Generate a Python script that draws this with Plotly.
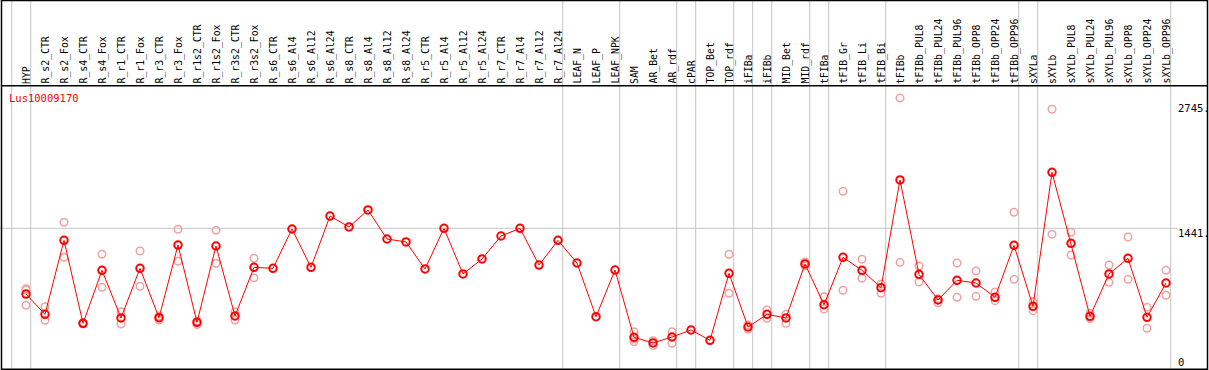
import plotly.graph_objects as go

categories = ["HYP", "R_s2_CTR", "R_s2_Fox", "R_s4_CTR", "R_s4_Fox", "R_r1_CTR", "R_r1_Fox",
              "R_r3_CTR", "R_r3_Fox", "R_r1s2_CTR", "R_r1s2_Fox", "R_r3s2_CTR", "R_r3s2_Fox",
              "R_s6_CTR", "R_s6_Al4", "R_s6_Al12", "R_s6_Al24", "R_s8_CTR", "R_s8_Al4",
              "R_s8_Al12", "R_s8_Al24", "R_r5_CTR", "R_r5_Al4", "R_r5_Al12", "R_r5_Al24",
              "R_r7_CTR", "R_r7_Al4", "R_r7_Al12", "R_r7_Al24", "LEAF_N", "LEAF_P", "LEAF_NPK",
              "SAM", "AR_Bet", "AR_rdf", "cPAR", "TOP_Bet", "TOP_rdf", "iFIBa", "iFIBb",
              "MID_Bet", "MID_rdf", "tFIBa", "tFIB_Gr", "tFIB_Li", "tFIB_Bi", "tFIBb",
              "tFIBb_PUL8", "tFIBb_PUL24", "tFIBb_PUL96", "tFIBb_OPP8", "tFIBb_OPP24",
              "tFIBb_OPP96", "sXYLa", "sXYLb", "sXYLb_PUL8", "sXYLb_PUL24", "sXYLb_PUL96",
              "sXYLb_OPP8", "sXYLb_OPP24", "sXYLb_OPP96"]

mean_values = [757, 546, 1316, 452, 1004, 508, 1025, 511, 1267, 463, 1257, 529, 1035,
               1025, 1434, 1035, 1569, 1455, 1632, 1330, 1299, 1018, 1441, 966, 1122,
               1361, 1441, 1059, 1316, 1080, 521, 1007,
               307, 248, 310, 383, 276, 973, 414, 546, 508, 1070, 646, 1139, 1004, 823,
               1944, 962, 695, 900, 872, 723, 1264, 629, 2024, 1285, 525, 966, 1129, 515, 872]

replicate_values = [[813, 799, 640], [625, 484], [1504, 1139], [460, 445], [1171, 827],
                    [573, 445], [1205, 838], [528, 486], [1431, 1098], [474, 440],
                    [1420, 1077], [570, 487], [1129, 927],
                    [], [], [], [], [], [], [], [], [], [], [], [], [], [], [], [], [], [], [],
                    [365, 261, 286], [272, 220], [365, 245], [], [], [1171, 765], [390, 435],
                    [591, 505], [546, 453], [1090, 1050], [729, 601], [1826, 796], [1119, 921],
                    [765, 860], [2797, 1087], [1049, 882], [709, 667], [1080, 723], [997, 733],
                    [778, 688], [1608, 910], [677, 584], [2680, 1379], [1400, 1163], [557, 502],
                    [1059, 879], [1351, 910], [619, 401], [1004, 744]]

# index of the last column of each group (separators drawn after them); -1 = before first
group_ends = [-1, 0, 28, 31, 34, 35, 37, 38, 39, 41, 42, 45, 52, 53, 60]

y_tick_values = [2745, 1441, 0]
y_tick_labels = ["2745.", "1441.", "0"]
title_text = "Lus10009170"

W, H = 1209, 370
X0, DX = 26.0, 19.0          # pixel of first column, pixel spacing
Y0, SY = 366.8, 0.0961       # pixel of zero, pixels per unit

def px_to_x(p):
    return (p - X0) / DX

def py_to_v(p):
    return (Y0 - p) / SY

def py_paper(p):
    return 1 - p / H

idx = list(range(len(categories)))

rep_x, rep_y = [], []
for i, reps in enumerate(replicate_values):
    for v in reps:
        rep_x.append(i)
        rep_y.append(v)

fig = go.Figure()
fig.add_trace(go.Scatter(
    x=rep_x, y=rep_y, mode="markers",
    marker=dict(symbol="circle-open", size=7.5, color="#f2a0a0", line=dict(width=1.5, color="#f2a0a0")),
    hoverinfo="skip", showlegend=False))
fig.add_trace(go.Scatter(
    x=idx, y=mean_values, mode="lines+markers",
    line=dict(color="#ff0000", width=1),
    marker=dict(symbol="circle-open", size=7.5, color="#ff0000", line=dict(width=2, color="#ff0000")),
    text=categories, showlegend=False))

shapes = []
for g in group_ends:
    xs = g + 4.7 / DX
    shapes.append(dict(type="line", xref="x", yref="paper", x0=xs, x1=xs, y0=0, y1=1,
                       line=dict(color="#c4c4c4", width=1), layer="below"))
shapes.append(dict(type="line", xref="paper", yref="y", x0=0, x1=1177 / W, y0=1441, y1=1441,
                   line=dict(color="#c4c4c4", width=1), layer="below"))
shapes.append(dict(type="line", xref="paper", yref="paper", x0=1 / W, x1=1207.5 / W,
                   y0=py_paper(85.7), y1=py_paper(85.7), line=dict(color="black", width=1.5)))
shapes.append(dict(type="rect", xref="paper", yref="paper", x0=1.5 / W, x1=1207.5 / W,
                   y0=py_paper(369.3), y1=py_paper(0.5), line=dict(color="black", width=1.5)))

annotations = []
for i, c in enumerate(categories):
    annotations.append(dict(x=i, xref="x", y=py_paper(85), yref="paper", text=c,
                            textangle=-90, xanchor="center", yanchor="bottom", showarrow=False,
                            font=dict(family="DejaVu Sans Mono", size=9.8, color="black"),
                            borderpad=0))
annotations.append(dict(x=8 / W, xref="paper", y=py_paper(97.7), yref="paper", text=title_text,
                        xanchor="left", yanchor="middle", showarrow=False,
                        font=dict(family="DejaVu Sans Mono", size=10.5, color="#ff0000"), borderpad=0))
label_centers = [107.5, 232.7, 362.0]
for lab, yc in zip(y_tick_labels, label_centers):
    annotations.append(dict(x=1177 / W, xref="paper", y=py_paper(yc), yref="paper", text=lab,
                            xanchor="left", yanchor="middle", showarrow=False,
                            font=dict(family="DejaVu Sans Mono", size=10.5, color="black"), borderpad=0))

fig.update_layout(
    width=W, height=H, margin=dict(l=0, r=0, t=0, b=0),
    paper_bgcolor="white", plot_bgcolor="white",
    xaxis=dict(range=[px_to_x(0), px_to_x(W)], visible=False, showgrid=False, zeroline=False),
    yaxis=dict(range=[py_to_v(H), py_to_v(0)], visible=False, showgrid=False, zeroline=False),
    shapes=shapes, annotations=annotations, showlegend=False,
)

fig.write_html("out.html", config={"displayModeBar": False},
               post_script="document.body.style.margin='0px';document.body.style.overflow='hidden';")
